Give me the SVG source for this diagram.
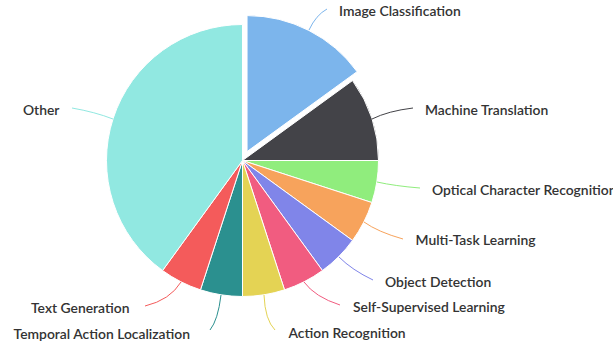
<svg xmlns="http://www.w3.org/2000/svg" width="613" height="347" viewBox="0 0 613 347">
<style>
.s{stroke:#fff;stroke-width:1;stroke-linejoin:round}
.l{fill:none;stroke-width:1}
text{font-family:Lato,"Open Sans",sans-serif;font-size:13.9px;fill:#333;font-weight:600}
.e{text-anchor:end}
</style>
<rect width="613" height="347" fill="#fff"/>
<g id="slices">
<g id="image-classification"><path class="s" fill="#7cb5ec" d="M247.04,151.59 L247.04,15.59 A136,136 0 0 1 357.07,71.65 Z"/></g>
<g id="machine-translation"><path class="s" fill="#434348" d="M242.5,160.5 L352.53,80.56 A136,136 0 0 1 378.5,160.5 Z"/></g>
<g id="ocr"><path class="s" fill="#90ed7d" d="M242.5,160.5 L378.5,160.5 A136,136 0 0 1 371.85,202.53 Z"/></g>
<g id="multi-task"><path class="s" fill="#f7a35c" d="M242.5,160.5 L371.85,202.53 A136,136 0 0 1 352.53,240.44 Z"/></g>
<g id="object-detection"><path class="s" fill="#8085e9" d="M242.5,160.5 L352.53,240.44 A136,136 0 0 1 322.44,270.53 Z"/></g>
<g id="self-supervised"><path class="s" fill="#f15c80" d="M242.5,160.5 L322.44,270.53 A136,136 0 0 1 284.53,289.85 Z"/></g>
<g id="action-recognition"><path class="s" fill="#e4d354" d="M242.5,160.5 L284.53,289.85 A136,136 0 0 1 242.5,296.5 Z"/></g>
<g id="temporal-action"><path class="s" fill="#2b908f" d="M242.5,160.5 L242.5,296.5 A136,136 0 0 1 200.47,289.85 Z"/></g>
<g id="text-generation"><path class="s" fill="#f45b5b" d="M242.5,160.5 L200.47,289.85 A136,136 0 0 1 162.56,270.53 Z"/></g>
<g id="other"><path class="s" fill="#91e8e1" d="M242.5,160.5 L162.56,270.53 A136,136 0 0 1 242.5,24.5 Z"/></g>
</g>
<g id="connectors">
<path class="l" stroke="#7cb5ec" d="M309,30 Q316,15 327,9"/>
<path class="l" stroke="#434348" d="M372,119 Q388,111 413,108"/>
<path class="l" stroke="#90ed7d" d="M377,182 Q395,186 420,188"/>
<path class="l" stroke="#f7a35c" d="M364,222 Q378,232 403,239"/>
<path class="l" stroke="#8085e9" d="M339,257 Q352,270 373,280"/>
<path class="l" stroke="#f15c80" d="M304,282 Q315,297 340,305"/>
<path class="l" stroke="#e4d354" d="M264,295 Q265,320 275,330"/>
<path class="l" stroke="#2b908f" d="M221,295 Q218,320 210,330"/>
<path class="l" stroke="#f45b5b" d="M181,282 Q170,300 145,306"/>
<path class="l" stroke="#91e8e1" d="M113,119 Q95,112 72,108"/>
</g>
<g id="labels">
<text x="339" y="16">Image Classification</text>
<text x="425" y="115">Machine Translation</text>
<text x="432" y="195">Optical Character Recognition</text>
<text x="415.5" y="245">Multi-Task Learning</text>
<text x="385" y="287">Object Detection</text>
<text x="353" y="312">Self-Supervised Learning</text>
<text x="288.5" y="338">Action Recognition</text>
<text class="e" x="190" y="339">Temporal Action Localization</text>
<text class="e" x="129.5" y="313">Text Generation</text>
<text class="e" x="59.5" y="115">Other</text>
</g>
</svg>
